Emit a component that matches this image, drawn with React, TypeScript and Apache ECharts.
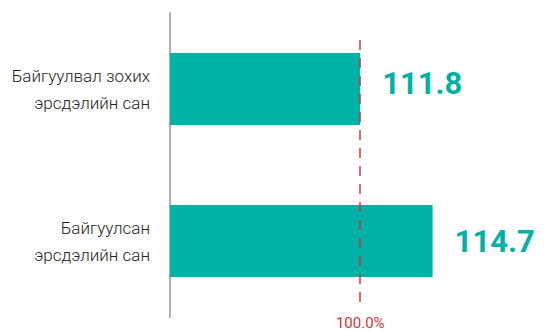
import React, { useEffect, useRef } from "react";
import * as echarts from "echarts";

const categories = ["Байгуулвал зохих\nэрсдэлийн сан", "Байгуулсан\nэрсдэлийн сан"];
const values = [111.8, 114.7];
const referenceValue = 111.8;
const referenceLabel = "100.0%";

const TEAL = "#00b2a6";
const RED = "#d8323c";
const FONT = "Roboto, 'Liberation Sans', sans-serif";

export default function App() {
  const ref = useRef<HTMLDivElement>(null);
  useEffect(() => {
    if (!ref.current) return;
    const chart = echarts.init(ref.current, undefined, { renderer: "svg" });
    chart.setOption({
      animation: false,
      grid: { left: 170, top: 13, width: 350, height: 304, outerBoundsMode: "none", containLabel: false },
      xAxis: [{ type: "value", min: 104.18, max: 118.2, show: false, splitLine: { show: false } }],
      yAxis: [
        {
          type: "category",
          data: categories,
          inverse: true,
          axisLine: { show: true, lineStyle: { color: "#b0b0b0", width: 2 } },
          axisTick: { show: false },
          axisLabel: {
            margin: 20,
            fontFamily: FONT,
            fontSize: 17,
            fontWeight: 300,
            lineHeight: 27,
            color: "#222",
            align: "right",
          },
        },
        { type: "value", min: 0, max: 1, show: false },
      ],
      series: [
        {
          type: "bar",
          data: values.map((v, i) => ({
            value: v,
            label: i === 0 ? { offset: [0, -6] } : {},
          })),
          barWidth: 72,
          itemStyle: { color: TEAL },
          label: {
            show: true,
            position: "right",
            distance: 22,
            fontFamily: FONT,
            fontSize: 31,
            fontWeight: "bold",
            color: TEAL,
            formatter: (p: any) => p.value.toFixed(1),
          },
          z: 2,
        },
        {
          type: "line",
          xAxisIndex: 0,
          yAxisIndex: 1,
          data: [],
          clip: false,
          z: 5,
          markLine: {
            silent: true,
            symbol: ["none", "none"],
            lineStyle: { color: RED, type: [10, 8], width: 1.5 },
            label: {
              show: true,
              position: "end",
              distance: 9,
              formatter: referenceLabel,
              color: RED,
              fontFamily: FONT,
              fontSize: 15,
            },
            data: [[{ coord: [referenceValue, 0.911] }, { coord: [referenceValue, 0.036] }]],
          },
        },
      ],
    });
    return () => chart.dispose();
  }, []);
  return (
    <div
      ref={ref}
      style={{ position: "absolute", left: 0, top: 0, width: 545, height: 331 }}
    />
  );
}
